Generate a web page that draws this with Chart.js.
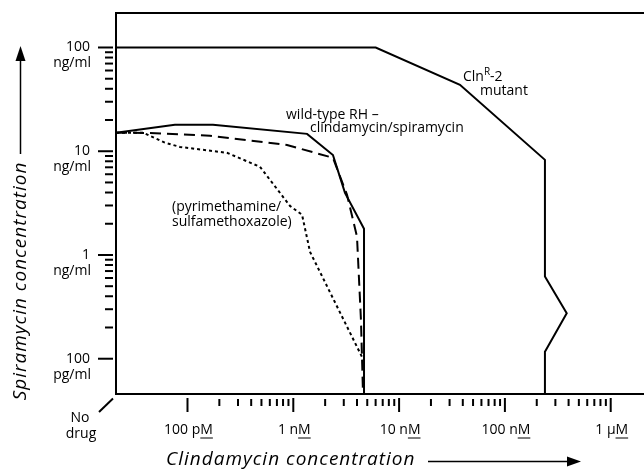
<!DOCTYPE html>
<html>
<head>
<meta charset="utf-8">
<script src="https://cdn.jsdelivr.net/npm/chart.js@4"></script>
<style>
html, body { margin: 0; padding: 0; background: #fff; }
#wrap { width: 644px; height: 470px; }
</style>
</head>
<body>
<div id="wrap"><canvas id="c" width="644" height="470"></canvas></div>
<script>
// axis limits: clindamycin in nM, spiramycin in ng/ml
// the two minima stand for "No drug"
const X_MIN = 0.0211, X_MAX = 2064;
const Y_MIN = 0.0457, Y_MAX = 215;

// wild-type RH, clindamycin/spiramycin (solid)
const wildX = [X_MIN, 0.076, 0.174, 1.35, 2.37, 3.08, 4.66, 4.66];
const wildY = [15.1, 18.0, 18.0, 14.7, 9.2, 3.97, 1.79, Y_MIN];

// dashed curve
const dashX = [X_MIN, 0.044, 0.163, 0.872, 2.37, 3.22, 4.0, 4.36, 4.56];
const dashY = [15.1, 15.0, 14.1, 11.5, 8.64, 3.80, 1.50, 0.237, Y_MIN];

// pyrimethamine/sulfamethoxazole (dotted)
const dotX = [X_MIN, 0.038, 0.061, 0.085, 0.236, 0.484, 0.931, 1.21, 1.44, 4.46];
const dotY = [15.1, 15.1, 12.1, 11.0, 9.66, 7.08, 2.97, 2.44, 1.07, 0.104];

// ClnR-2 mutant (solid)
const mutX = [X_MIN, 6.01, 37.6, 239, 239, 384, 239, 239];
const mutY = [100, 100, 43.7, 8.26, 0.619, 0.275, 0.117, Y_MIN];

// tick labels
const xTickVals = [0.1, 1, 10, 100, 1000];
const xTickText = ['100 p', '1 n', '10 n', '100 n', '1 \u00b5'];
const yTickVals = [100, 10, 1, 0.1];
const yTickNum = ['100', '10', '1', '100'];
const yTickUnit = ['ng/ml', 'ng/ml', 'ng/ml', 'pg/ml'];

function pts(xs, ys) {
    return xs.map((x, i) => ({ x: x, y: ys[i] }));
}

const FONT = '"Open Sans", "DejaVu Sans", sans-serif';

const extras = {
    id: 'extras',
    afterDatasetsDraw(chart) {
        const ctx = chart.ctx;
        const xs = chart.scales.x, ys = chart.scales.y;
        const a = chart.chartArea;
        ctx.save();
        ctx.strokeStyle = '#000';
        ctx.fillStyle = '#000';
        ctx.lineCap = 'butt';

        // frame (left, top, bottom)
        ctx.lineWidth = 2;
        ctx.beginPath();
        ctx.moveTo(a.right, a.top);
        ctx.lineTo(a.left, a.top);
        ctx.lineTo(a.left, a.bottom);
        ctx.lineTo(a.right, a.bottom);
        ctx.stroke();

        // x ticks below the axis
        for (let d = 0; d < xTickVals.length; d++) {
            const v = xTickVals[d];
            const px = xs.getPixelForValue(v);
            ctx.beginPath();
            ctx.moveTo(px, a.bottom + 4);
            ctx.lineTo(px, a.bottom + 18);
            ctx.stroke();
            if (d < xTickVals.length - 1) {
                for (let m = 2; m <= 9; m++) {
                    const mx = xs.getPixelForValue(v * m);
                    ctx.beginPath();
                    ctx.moveTo(mx, a.bottom + 5);
                    ctx.lineTo(mx, a.bottom + 12);
                    ctx.stroke();
                }
            }
        }
        // y ticks left of the axis
        for (let d = 0; d < yTickVals.length; d++) {
            const v = yTickVals[d];
            const py = ys.getPixelForValue(v);
            ctx.beginPath();
            ctx.moveTo(a.left - 18, py);
            ctx.lineTo(a.left - 3, py);
            ctx.stroke();
            if (d < yTickVals.length - 1) {
                for (let m = 2; m <= 9; m++) {
                    const my = ys.getPixelForValue(v / 10 * m);
                    ctx.beginPath();
                    ctx.moveTo(a.left - 11, my);
                    ctx.lineTo(a.left - 3, my);
                    ctx.stroke();
                }
            }
        }

        // x tick labels, M underlined
        ctx.font = '14px ' + FONT;
        ctx.textBaseline = 'middle';
        ctx.textAlign = 'left';
        ctx.lineWidth = 1;
        xTickVals.forEach((v, i) => {
            const s = xTickText[i] + 'M';
            const w = ctx.measureText(s).width;
            const mw = ctx.measureText('M').width;
            const cx = xs.getPixelForValue(v) + 1;
            const x0 = cx - w / 2;
            ctx.fillText(s, x0, 430);
            ctx.beginPath();
            ctx.moveTo(x0 + w - mw, 438);
            ctx.lineTo(x0 + w, 438);
            ctx.stroke();
        });

        // y tick labels
        ctx.textAlign = 'right';
        yTickVals.forEach((v, i) => {
            const py = ys.getPixelForValue(v);
            ctx.fillText(yTickNum[i], 90, py);
            ctx.fillText(yTickUnit[i], 91, py + 16);
        });

        // "No drug" corner
        ctx.lineWidth = 2;
        ctx.beginPath();
        ctx.moveTo(99, 412);
        ctx.lineTo(113, 398.5);
        ctx.stroke();
        ctx.textAlign = 'center';
        ctx.fillText('No', 80, 418);
        ctx.fillText('drug', 81, 434);

        // curve annotations
        ctx.textAlign = 'left';
        ctx.fillText('wild-type RH \u2013', 286, 115);
        ctx.fillText('clindamycin/spiramycin', 310, 128.5);
        ctx.fillText('(pyrimethamine/', 172, 207);
        ctx.fillText('sulfamethoxazole)', 172, 222);
        ctx.fillText('Cln', 463, 77);
        let w = ctx.measureText('Cln').width;
        ctx.font = '10px ' + FONT;
        ctx.fillText('R', 463 + w, 72);
        let w2 = ctx.measureText('R').width;
        ctx.font = '14px ' + FONT;
        ctx.fillText('-2', 463 + w + w2, 77);
        ctx.fillText('mutant', 480, 91);

        // axis titles with arrows
        ctx.font = 'italic 19px ' + FONT;
        ctx.letterSpacing = '1px';
        ctx.textAlign = 'left';
        ctx.fillText('Clindamycin concentration', 166, 460);
        ctx.save();
        ctx.translate(21, 281);
        ctx.rotate(-Math.PI / 2);
        ctx.textAlign = 'center';
        ctx.fillText('Spiramycin concentration', 0, 0);
        ctx.restore();
        ctx.letterSpacing = '0px';

        ctx.lineWidth = 1.5;
        ctx.beginPath();
        ctx.moveTo(428, 461.5);
        ctx.lineTo(570, 461.5);
        ctx.stroke();
        ctx.beginPath();
        ctx.moveTo(581, 461.5);
        ctx.lineTo(567, 456.5);
        ctx.lineTo(567, 466.5);
        ctx.closePath();
        ctx.fill();

        ctx.beginPath();
        ctx.moveTo(20.5, 154);
        ctx.lineTo(20.5, 58);
        ctx.stroke();
        ctx.beginPath();
        ctx.moveTo(20.5, 46);
        ctx.lineTo(15.5, 61);
        ctx.lineTo(25.5, 61);
        ctx.closePath();
        ctx.fill();

        ctx.restore();
    }
};

const lineStyle = { borderColor: '#000', borderWidth: 2, pointRadius: 0, tension: 0, fill: false, clip: false };

new Chart(document.getElementById('c'), {
    type: 'line',
    data: {
        datasets: [
            Object.assign({ label: 'ClnR-2 mutant', data: pts(mutX, mutY) }, lineStyle),
            Object.assign({ label: 'wild-type RH', data: pts(wildX, wildY) }, lineStyle),
            Object.assign({ label: 'dashed', data: pts(dashX, dashY), borderDash: [11, 6] }, lineStyle),
            Object.assign({ label: 'pyrimethamine/sulfamethoxazole', data: pts(dotX, dotY), borderDash: [3, 3] }, lineStyle)
        ]
    },
    options: {
        responsive: false,
        animation: false,
        events: [],
        layout: { padding: { left: 116, top: 13, right: 0, bottom: 76 } },
        plugins: { legend: { display: false }, tooltip: { enabled: false } },
        scales: {
            x: { type: 'logarithmic', min: X_MIN, max: X_MAX, display: false },
            y: { type: 'logarithmic', min: Y_MIN, max: Y_MAX, display: false }
        }
    },
    plugins: [extras]
});
</script>
</body>
</html>
